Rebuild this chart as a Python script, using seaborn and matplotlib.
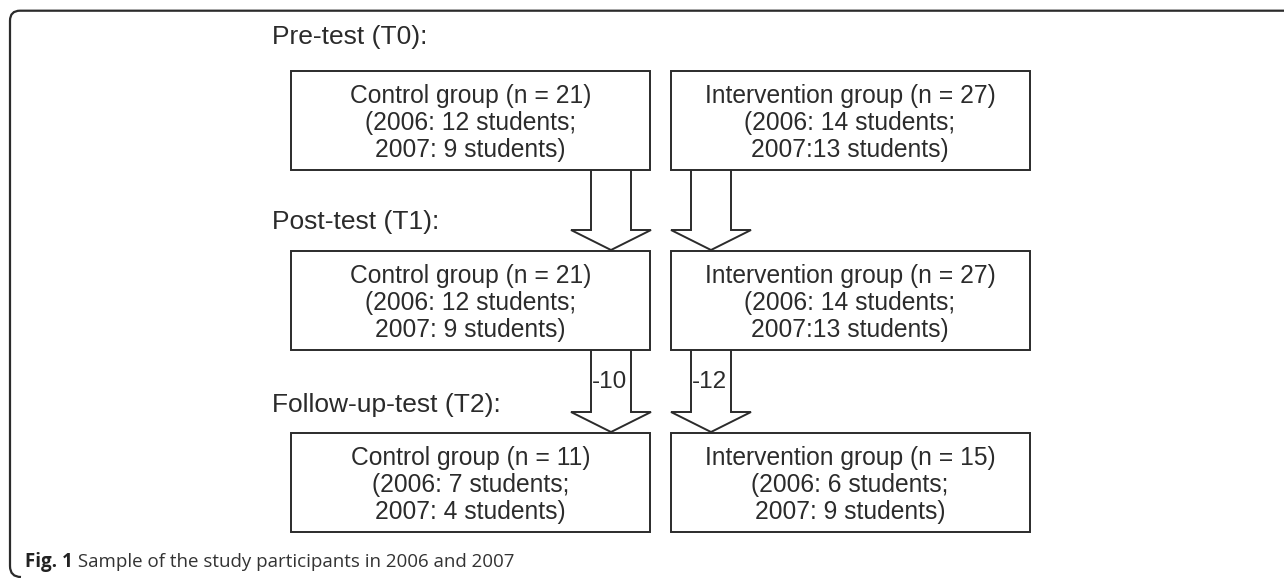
import matplotlib
matplotlib.use("Agg")
import matplotlib.pyplot as plt
import seaborn as sns
from matplotlib.patches import Rectangle, Polygon, PathPatch
from matplotlib.path import Path

# stage labels and group counts
stages = ["Pre-test (T0):", "Post-test (T1):", "Follow-up-test (T2):"]
control_n = [21, 21, 11]
control_2006 = [12, 12, 7]
control_2007 = [9, 9, 4]
interv_n = [27, 27, 15]
interv_2006 = [14, 14, 6]
interv_2007 = [13, 13, 9]
# dropouts between stages (None = no label)
control_drop = [None, "-10"]
interv_drop = [None, "-12"]
caption_bold = "Fig. 1"
caption_text = " Sample of the study participants in 2006 and 2007"

sns.set_theme(style="white")
plt.rcParams["font.family"] = ["Liberation Sans", "DejaVu Sans"]

W, H = 1284, 578
fig = plt.figure(figsize=(W / 100, H / 100), dpi=100)
ax = fig.add_axes([0, 0, 1, 1])
ax.set_xlim(0, W)
ax.set_ylim(H, 0)
ax.axis("off")

ink = "#2b2b2b"
lw = 1.4

# outer frame, rounded left corners, open at right/bottom
verts = [(W + 5, 10.7), (20, 10.7), (10, 10.7), (10, 20.7), (10, 566),
         (10, 577), (21, 577)]
codes = [Path.MOVETO, Path.LINETO, Path.CURVE3, Path.CURVE3, Path.LINETO,
         Path.CURVE3, Path.CURVE3]
ax.add_patch(PathPatch(Path(verts, codes), fill=False, ec=ink, lw=1.6))

row_top = [71, 251, 433]
label_y = [37, 222, 405]
box_h = 99
left_x, right_x, box_w = 291, 670.5, 359

def down_arrow(cx, y0, y1, text=None):
    # block arrow: shaft 40 wide, head 80 wide and 20 tall
    base = y1 - 20
    pts = [(cx - 20, y0), (cx - 20, base), (cx - 40, base), (cx, y1),
           (cx + 40, base), (cx + 20, base), (cx + 20, y0)]
    ax.add_patch(Polygon(pts, closed=False, fill=False, ec=ink, lw=lw,
                         joinstyle="miter"))
    if text:
        ax.text(cx - 19, (y0 + base) / 2 + 1, text, ha="left", va="center",
                fontsize=17.5, color=ink)

for i, stage in enumerate(stages):
    top = row_top[i]
    ax.text(272, label_y[i], stage, ha="left", va="center", fontsize=19,
            color=ink)
    sep = "" if interv_2007[i] >= 10 else " "
    texts = [
        f"Control group (n = {control_n[i]})\n(2006: {control_2006[i]} students;\n2007: {control_2007[i]} students)",
        f"Intervention group (n = {interv_n[i]})\n(2006: {interv_2006[i]} students;\n2007:{sep}{interv_2007[i]} students)",
    ]
    for x0, t in zip([left_x, right_x], texts):
        ax.add_patch(Rectangle((x0, top), box_w, box_h, fill=False, ec=ink,
                               lw=lw))
        ax.text(x0 + box_w / 2, top + box_h / 2 + 2.5, t, ha="center",
                va="center", fontsize=17.7, color=ink, linespacing=1.15)
    if i < len(stages) - 1:
        y0 = top + box_h
        y1 = row_top[i + 1] - 1
        down_arrow(611, y0, y1, control_drop[i])
        down_arrow(711, y0, y1, interv_drop[i])

cap = ax.text(25, 562, caption_bold, ha="left", va="center", fontsize=13.5,
              fontweight="bold", family=["Open Sans", "DejaVu Sans"],
              color="#222222")
fig.canvas.draw()
bb = cap.get_window_extent()
x_end = ax.transData.inverted().transform((bb.x1, bb.y0))[0]
ax.text(x_end, 562, caption_text, ha="left", va="center", fontsize=13.5,
        family=["Open Sans", "DejaVu Sans"], color="#333333")

fig.savefig("out.png", dpi=100, facecolor="white")
